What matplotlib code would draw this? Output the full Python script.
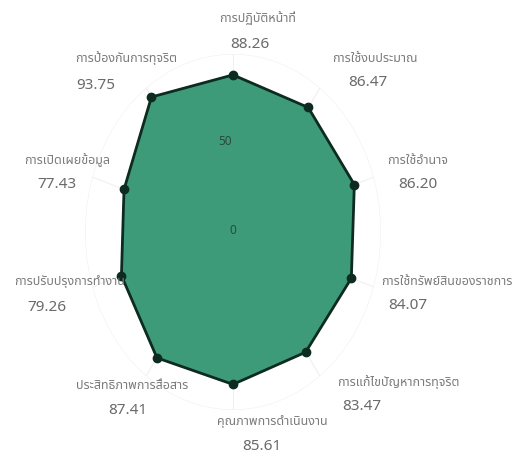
import numpy as np
import matplotlib
matplotlib.use("Agg")
import matplotlib.pyplot as plt

# categories clockwise from the top, with their scores
categories = [
    "การปฏิบัติหน้าที่",
    "การใช้งบประมาณ",
    "การใช้อำนาจ",
    "การใช้ทรัพย์สินของราชการ",
    "การแก้ไขปัญหาการทุจริต",
    "คุณภาพการดำเนินงาน",
    "ประสิทธิภาพการสื่อสาร",
    "การปรับปรุงการทำงาน",
    "การเปิดเผยข้อมูล",
    "การป้องกันการทุจริต",
]
scores = [88.26, 86.47, 86.20, 84.07, 83.47, 85.61, 87.41, 79.26, 77.43, 93.75]
radial_ticks = [0, 50]

# label anchor points in figure pixels (name line, value line)
label_pos = [
    ((258, 18), (250, 45)),
    ((375, 58), (368, 82)),
    ((418, 160), (418, 184)),
    ((447, 281), (408, 305)),
    ((398, 382), (362, 406)),
    ((272, 421), (262, 446)),
    ((132, 385), (128, 410)),
    ((70, 282), (47, 307)),
    ((67, 160), (57, 185)),
    ((126, 58), (96, 85)),
]

plt.rcParams["font.family"] = ["Noto Sans Thai", "Loma", "Garuda", "Tlwg Typo",
                               "Noto Sans", "DejaVu Sans"]

W, H = 522, 461
fig = plt.figure(figsize=(W / 100, H / 100), dpi=100)
# the source photo is squashed sideways, so the radar is an ellipse
cx, cy, Rv, Rh = 233, 232, 178, 148
ax = fig.add_axes([(cx - Rh) / W, (H - cy - Rv) / H, 2 * Rh / W, 2 * Rv / H],
                  projection="polar")
ax.set_aspect("auto")
ax.set_theta_zero_location("N")
ax.set_theta_direction(-1)
ax.set_ylim(0, 100)

n = len(categories)
theta = np.linspace(0, 2 * np.pi, n, endpoint=False)
th = np.append(theta, theta[0])
vals = np.append(scores, scores[0])

ax.fill(th, vals, color="#3d9b7a", zorder=3)
ax.plot(th, vals, color="#0d2b20", lw=2, zorder=4)
ax.plot(theta, scores, "o", color="#0d2b20", ms=6, zorder=5)

ax.set_xticks(theta)
ax.set_xticklabels([])
ax.set_yticks([50, 100])
ax.set_yticklabels([])
ax.grid(color="#f0f0f0", lw=0.8)
ax.spines["polar"].set_visible(False)

for t in radial_ticks:
    ax.text(np.deg2rad(-6), t + 1, str(t), ha="center", va="center",
            fontsize=8.5, color="#2a4a3c", zorder=6)

for name, val, (p1, p2) in zip(categories, scores, label_pos):
    fig.text(p1[0] / W, 1 - p1[1] / H, name, ha="center", va="center",
             fontsize=9, color="#7a7a7a", zorder=1)
    fig.text(p2[0] / W, 1 - p2[1] / H, f"{val:.2f}", ha="center", va="center",
             fontsize=11, color="#6a6a6a", zorder=1)

fig.savefig("out.png", dpi=100)
